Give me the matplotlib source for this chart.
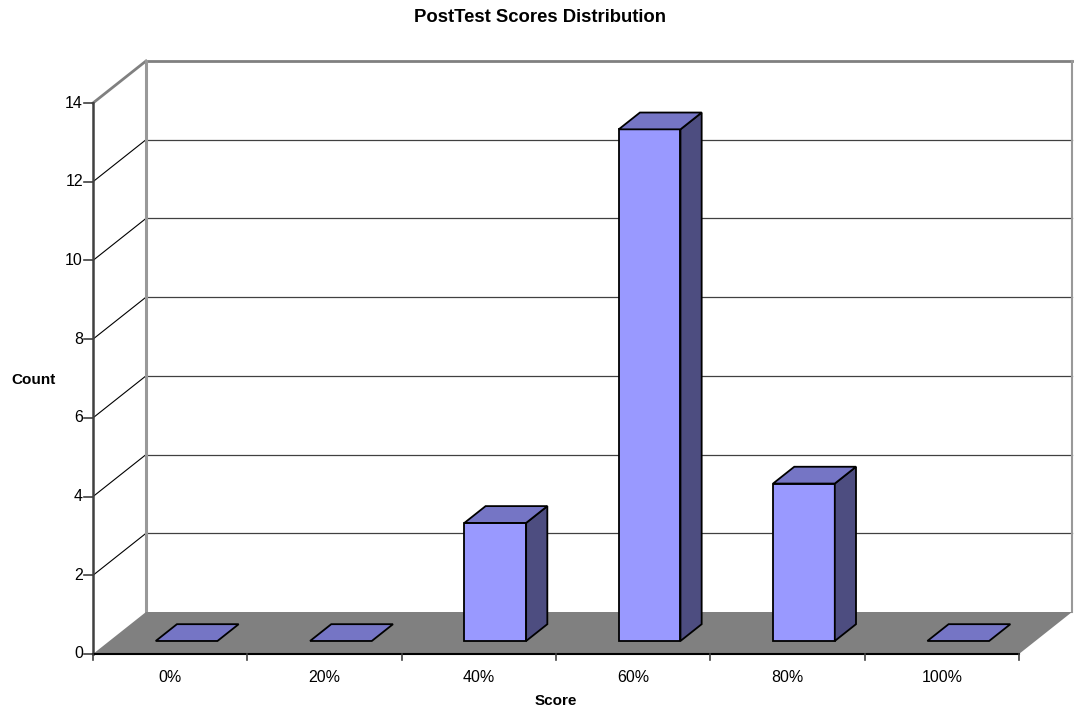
import matplotlib
matplotlib.use("Agg")
import matplotlib.pyplot as plt
from matplotlib.patches import Polygon

categories = ["0%", "20%", "40%", "60%", "80%", "100%"]
counts = [0, 0, 3, 13, 4, 0]
y_ticks = [0, 2, 4, 6, 8, 10, 12, 14]
title = "PostTest Scores Distribution"
x_label = "Score"
y_label = "Count"

plt.rcParams['font.family'] = ['Liberation Sans', 'DejaVu Sans']

W, H = 1074, 711
fig = plt.figure(figsize=(W / 100, H / 100), dpi=100)
ax = fig.add_axes([0, 0, 1, 1])
ax.set_xlim(0, W)
ax.set_ylim(H, 0)
ax.axis('off')

# oblique projection geometry
X0, X1, Y0 = 93, 1019, 654
YMAX = max(y_ticks)
UNIT = (Y0 - 103) / YMAX
DX, DY = 53, -42
N = len(categories)
CW = (X1 - X0) / N


def P(c, v, d):
    return (X0 + c * CW + d * DX, Y0 - v * UNIT + d * DY)


# back wall
wall = Polygon([P(0, 0, 1), P(0, YMAX, 1), P(N, YMAX, 1), P(N, 0, 1)],
               closed=True, facecolor='white', edgecolor='none', zorder=1)
ax.add_patch(wall)
for v in y_ticks[1:]:
    a, b = P(0, v, 1), P(N, v, 1)
    if v == YMAX:
        ax.plot([a[0], b[0]], [a[1], b[1]], color='#808080', lw=2, zorder=2)
    else:
        ax.plot([a[0], b[0]], [a[1], b[1]], color='#404040', lw=0.9, zorder=2)
    f = P(0, v, 0)
    col, lw = ('#808080', 2) if v == YMAX else ('black', 0.8)
    ax.plot([f[0], a[0]], [f[1], a[1]], color=col, lw=lw, zorder=2)
# back wall left and right edges
a, b = P(0, 0, 1), P(0, YMAX, 1)
ax.plot([a[0], b[0]], [a[1], b[1]], color='#999999', lw=2.2, zorder=2)
a, b = P(N, 0, 1), P(N, YMAX, 1)
ax.plot([a[0], b[0]], [a[1], b[1]], color='#999999', lw=1.5, zorder=2)

# floor
floor = Polygon([P(0, 0, 0), P(0, 0, 1), P(N, 0, 1), P(N, 0, 0)],
                closed=True, facecolor='#808080', edgecolor='none', zorder=3)
ax.add_patch(floor)

# bars
FRONT, TOP, SIDE = '#9999FF', '#7575C5', '#4D4D80'
D0, D1 = 0.31, 0.71
for i, val in enumerate(counts):
    c0, c1 = i + 0.3, i + 0.7
    if val > 0:
        front = [P(c0, 0, D0), P(c0, val, D0), P(c1, val, D0), P(c1, 0, D0)]
        side = [P(c1, 0, D0), P(c1, val, D0), P(c1, val, D1), P(c1, 0, D1)]
        ax.add_patch(Polygon(front, closed=True, facecolor=FRONT,
                             edgecolor='black', lw=1.3, zorder=5))
        ax.add_patch(Polygon(side, closed=True, facecolor=SIDE,
                             edgecolor='black', lw=1.3, zorder=5))
    top = [P(c0, val, D0), P(c0, val, D1), P(c1, val, D1), P(c1, val, D0)]
    ax.add_patch(Polygon(top, closed=True, facecolor=TOP,
                         edgecolor='black', lw=1.3, zorder=5))

# front value axis
a, b = P(0, 0, 0), P(0, YMAX, 0)
ax.plot([a[0], b[0]], [a[1], b[1]], color='#404040', lw=1.8, zorder=6)
for v in y_ticks:
    p = P(0, v, 0)
    ax.plot([p[0] - 9, p[0]], [p[1], p[1]], color='#404040', lw=1.2, zorder=6)
    ax.text(p[0] - 10, p[1], str(v), ha='right', va='center', fontsize=11.5)

# category axis
a, b = P(0, 0, 0), P(N, 0, 0)
ax.plot([a[0], b[0]], [a[1], b[1]], color='black', lw=1.5, zorder=6)
for k in range(N + 1):
    p = P(k, 0, 0)
    ax.plot([p[0], p[0]], [p[1], p[1] + 6], color='#404040', lw=1.2, zorder=6)
for i, lab in enumerate(categories):
    p = P(i + 0.5, 0, 0)
    ax.text(p[0], p[1] + 23, lab, ha='center', va='center', fontsize=11.5)

ax.text(540, 18, title, ha='center', va='center', fontsize=13.3, fontweight='bold')
ax.text(556, 701, x_label, ha='center', va='center', fontsize=11, fontweight='bold')
ax.text(34, 380, y_label, ha='center', va='center', fontsize=11, fontweight='bold')

fig.savefig('out.png', dpi=100)
